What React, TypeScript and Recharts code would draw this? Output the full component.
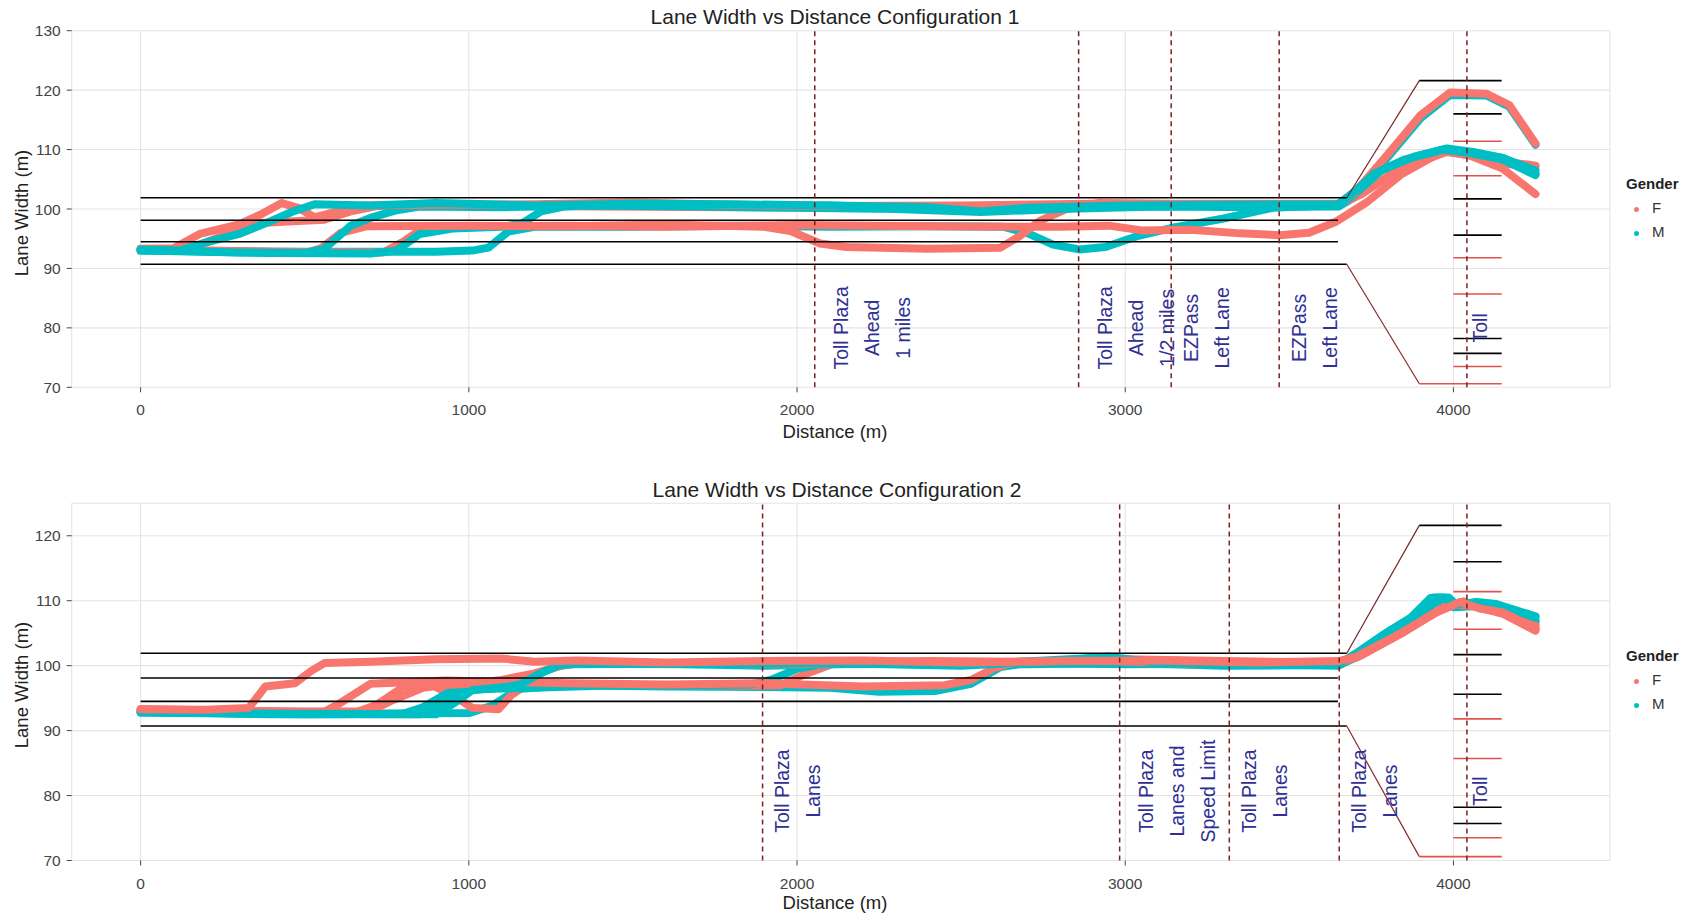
import React from 'react';
import { ComposedChart, Line, XAxis, YAxis, CartesianGrid, ReferenceLine, Scatter } from 'recharts';

const FONT = 'Liberation Sans, Arial, Helvetica, sans-serif';
const F_COLOR = '#F8766D';
const M_COLOR = '#00BFC4';

// axis ticks
const xTicks = [0, 1000, 2000, 3000, 4000];
const xMinor = [500, 1500, 2500, 3500];
const yTicks1 = [70, 80, 90, 100, 110, 120, 130];
const yMinor1 = [75, 85, 95, 105, 115, 125];
const yTicks2 = [70, 80, 90, 100, 110, 120];
const yMinor2 = [75, 85, 95, 105, 115];

// road geometry
const laneY = [90.7, 94.5, 98.1, 101.9];
const laneEnd = [3675, 3648, 3648, 3675];
const taperStart = 3675;
const taperEnd = 3896;
const plazaTop = 121.6;
const plazaBottom = 70.6;
const tollStart = 4000;
const tollEnd = 4147;
const tollBlack = [116.0, 101.7, 95.6, 78.2, 75.7];
const tollRed = [111.4, 105.6, 91.8, 85.7, 73.5];

// sign positions (distance) and texts
const signs1 = [2054, 2858, 3140, 3469, 4041];
const signText1 = [
  ['Toll Plaza', 'Ahead', '1 miles'],
  ['Toll Plaza', 'Ahead', '1/2 miles'],
  ['EZPass', 'Left Lane'],
  ['EZPass', 'Left Lane'],
  ['Toll'],
];
const signs2 = [1895, 2983, 3317, 3652, 4041];
const signText2 = [
  ['Toll Plaza', 'Lanes'],
  ['Toll Plaza', 'Lanes and', 'Speed Limit'],
  ['Toll Plaza', 'Lanes'],
  ['Toll Plaza', 'Lanes'],
  ['Toll'],
];

// configuration 1 trajectories [distance, lane width]
const c1F1 = [[0,93.3],[100,93.4],[180,95.8],[300,97.4],[370,99.2],[430,101],[480,100.2],[530,98.6],[600,99.6],[680,100.6],[900,100.7],[1200,100.8],[1500,101.1],[1800,100.7],[2100,100.5],[2500,100.6],[2900,100.9],[3300,100.9],[3650,100.9],[3700,102.8],[3800,109.2],[3900,115.8],[3990,119.6],[4100,119.4],[4170,117.5],[4250,111]];
const c1F2 = [[0,93.2],[150,93.3],[250,95.5],[350,97.6],[480,98],[560,98.2],[640,99.6],[720,100.5],[1000,100.6],[1400,100.4],[1800,100.3],[2200,100.2],[2600,100],[3000,100.5],[3400,100.6],[3650,100.7],[3720,102.5],[3820,106.2],[3980,109.7],[4050,109],[4150,106.8],[4250,102.5]];
const c1F3 = [[0,93.2],[300,92.9],[500,92.6],[550,93.4],[610,96],[690,97.1],[1000,97.2],[1300,97.1],[1600,97.4],[1900,97],[1980,96.3],[2070,94.2],[2150,93.6],[2400,93.3],[2620,93.5],[2680,95.5],[2740,98],[2820,100],[2920,101],[3200,100.8],[3500,100.6],[3650,100.8],[3730,103],[3850,107.2],[3980,109.6],[4060,109],[4150,108],[4250,107.3]];
const c1F4 = [[0,93.2],[400,92.8],[740,92.7],[800,94.5],[860,96.8],[1000,97.1],[1300,97.2],[1600,97],[2000,97.3],[2400,97.1],[2800,97],[2950,97.2],[3050,96.4],[3200,96.5],[3350,95.9],[3470,95.6],[3560,96],[3640,97.8],[3740,101.3],[3840,105.8],[3970,109.8],[4050,109],[4150,107.6],[4250,107.2]];
const c1M1 = [[0,93.2],[120,93],[200,94.4],[300,95.8],[390,97.8],[460,99.5],[530,100.8],[700,100.6],[900,101],[1200,100.6],[1500,100.9],[1800,100.8],[2100,100.6],[2400,100.3],[2560,99.6],[2700,100.2],[3000,100.6],[3300,100.7],[3650,100.8],[3700,103],[3760,106],[3850,108.3],[3970,110],[4050,109.4],[4150,108.3],[4250,105.7]];
const c1M2 = [[0,93.1],[300,92.7],[500,92.6],[560,93.3],[640,97.2],[700,98.5],[780,99.8],[850,100.4],[1100,100.3],[1400,100.6],[1700,100.4],[2000,100.2],[2300,100],[2560,99.5],[2800,100],[3100,100.4],[3400,100.3],[3650,100.5],[3700,102.5],[3780,106.5],[3880,108.8],[3980,110.2],[4060,109.6],[4150,108.6],[4250,106.5]];
const c1M3 = [[0,93],[400,92.6],[700,92.5],[780,93],[850,95.8],[950,96.7],[1100,97],[1160,97.5],[1220,99.6],[1290,100.4],[1500,100.8],[1800,100.5],[2100,100.6],[2400,100.1],[2700,100],[3000,100.4],[3300,100.5],[3650,100.4],[3700,102],[3800,108.7],[3900,115.3],[3990,119.2],[4100,119.1],[4170,117.2],[4250,110.8]];
const c1M4 = [[0,93],[500,92.8],[900,92.8],[1010,93],[1060,93.5],[1120,96.2],[1200,97],[1500,97],[1800,97.2],[2100,97],[2400,97.1],[2630,97],[2700,96],[2780,94],[2860,93.2],[2940,93.6],[3040,95.5],[3140,96.8],[3300,98.4],[3450,100.2],[3650,100.7],[3700,102.8],[3770,106.3],[3860,108.2],[3970,109.8],[4050,109.5],[4150,108.6],[4250,106]];

// configuration 2 trajectories
const c2F1 = [[0,93.3],[200,93.2],[330,93.5],[380,96.8],[470,97.3],[520,99.2],[560,100.4],[700,100.6],[900,101],[1100,101.1],[1200,100.6],[1330,100.8],[1600,100.5],[1900,100.7],[2200,100.8],[2500,100.5],[2800,100.7],[3100,100.8],[3400,100.5],[3650,100.7],[3700,101.3],[3840,105],[3940,108],[4020,109.8],[4080,108.8],[4150,108.2],[4250,105.8]];
const c2F2 = [[0,93.2],[300,93],[560,92.9],[610,94.3],[700,97.2],[930,97.7],[1100,97.5],[1300,97.3],[1600,97.1],[1900,97.3],[2200,96.8],[2450,97],[2530,97.8],[2600,99.6],[2670,100.6],[2900,100.8],[3200,100.4],[3650,100.3],[3720,101.6],[3850,105.2],[3980,109.3],[4050,109.6],[4150,108.4],[4250,106.2]];
const c2F3 = [[0,93.2],[400,92.8],[650,92.7],[720,94],[800,96.7],[880,97.2],[960,95.2],[1010,93.5],[1090,93.3],[1130,95.5],[1180,97.2],[1300,97.1],[1600,97],[1850,96.9],[1950,97],[2030,98.8],[2120,100.5],[2400,100.7],[2700,100.6],[3000,101],[3300,100.7],[3650,100.5],[3700,101.2],[3830,104.7],[3950,108.3],[4030,109.9],[4100,108.7],[4180,107.6],[4250,105.6]];
const c2F4 = [[0,93.3],[500,92.9],[700,93],[760,94.5],[860,96.6],[920,97],[1000,97.2],[1100,97.8],[1200,98.8],[1280,100],[1360,100.5],[1700,100.3],[2000,100.2],[2300,100.6],[2600,100.4],[2900,100.9],[3200,100.2],[3650,100.4],[3720,101.8],[3860,105.6],[3990,109.5],[4060,109.2],[4150,108],[4250,105.4]];
const c2M1 = [[0,92.9],[400,92.6],[900,92.5],[960,94.4],[1010,96.2],[1150,96.9],[1210,98.6],[1270,100],[1320,100.3],[1700,100.2],[2100,100.4],[2500,100.1],[2900,101.2],[2960,101.3],[3100,100.4],[3400,100.1],[3650,100.2],[3700,101.8],[3790,104.9],[3870,107.4],[3930,110.4],[3970,110.5],[4000,109.4],[4060,109.7],[4120,109.4],[4250,107.4]];
const c2M2 = [[0,92.8],[500,92.5],[800,92.6],[860,93.6],[950,96.2],[1050,96.4],[1400,96.9],[1700,97],[1860,97.1],[1920,97.8],[2000,99.5],[2080,100.3],[2400,100.5],[2700,100.2],[3000,100.4],[3300,100],[3650,100.1],[3710,101.4],[3810,104.6],[3900,108.3],[3960,110.2],[4010,109.2],[4080,109.5],[4150,109],[4250,106.9]];
const c2M3 = [[0,92.8],[600,92.6],[1000,92.7],[1070,93.8],[1150,96.4],[1300,97],[1600,96.8],[1900,96.7],[2100,96.6],[2250,96],[2420,96.1],[2530,97.2],[2620,99.8],[2700,100.4],[3000,100.2],[3300,100.3],[3650,100],[3700,101.3],[3800,104.5],[3890,107.8],[3950,109.8],[4000,109],[4080,109.2],[4160,108.6],[4250,106.6]];
const c2M4 = [[0,92.9],[400,92.5],[850,92.5],[900,93.4],[980,96.3],[1100,96.6],[1150,97.2],[1220,99],[1290,100.2],[1600,100.3],[1900,100],[2200,100.3],[2500,100],[2850,100.9],[2950,101.4],[3050,100.5],[3400,100.3],[3650,100.3],[3720,102.2],[3800,105.2],[3880,107.6],[3940,110.5],[3985,110.5],[4010,109.3],[4070,109.8],[4130,109.5],[4250,107.6]];

const pts = (a: number[][]) => a.map(([x, y]) => ({ x, y }));

const config1 = [
  { id: 'M4', g: 'M', d: c1M4 }, { id: 'F4', g: 'F', d: c1F4 },
  { id: 'M3', g: 'M', d: c1M3 }, { id: 'F3', g: 'F', d: c1F3 },
  { id: 'F2', g: 'F', d: c1F2 }, { id: 'M2', g: 'M', d: c1M2 },
  { id: 'F1', g: 'F', d: c1F1 }, { id: 'M1', g: 'M', d: c1M1 },
];
const config2 = [
  { id: 'M3', g: 'M', d: c2M3 }, { id: 'F3', g: 'F', d: c2F3 },
  { id: 'M2', g: 'M', d: c2M2 }, { id: 'F2', g: 'F', d: c2F2 },
  { id: 'M4', g: 'M', d: c2M4 }, { id: 'F4', g: 'F', d: c2F4 },
  { id: 'M1', g: 'M', d: c2M1 }, { id: 'F1', g: 'F', d: c2F1 },
];

const SignLabel = (props: any) => {
  const { cx, cy, payload } = props;
  if (cx == null || cy == null) return null;
  const lines: string[] = payload.lines;
  const base = 13.5 + (lines.length - 1) * 6.2;
  return (
    <g>
      {lines.map((t, i) => {
        const x = cx + base + i * 31;
        return (
          <text key={i} x={x} y={cy} transform={`rotate(-90 ${x} ${cy})`} textAnchor="middle"
            dominantBaseline="central" fontSize={19.5} fill="#2f2f94" fontFamily={FONT}>{t}</text>
        );
      })}
    </g>
  );
};

const minorX = ({ xAxis }: any) =>
  xAxis && typeof xAxis.scale === 'function' ? xMinor.map((v) => xAxis.scale(v)) : [];

const Panel = ({ trajectories, signs, signText, yDomain, yTicks, yMinor, labelY, height, margin }: any) => {
  const labels = signs.map((x: number, i: number) => ({ x, y: labelY, lines: signText[i] }));
  const minorY = ({ yAxis }: any) =>
    yAxis && typeof yAxis.scale === 'function' ? yMinor.map((v: number) => yAxis.scale(v)) : [];
  return (
    <ComposedChart width={1695} height={height} margin={margin}>
      <CartesianGrid stroke="#f3f3f3" strokeWidth={1} verticalCoordinatesGenerator={minorX}
        horizontalCoordinatesGenerator={minorY} />
      <CartesianGrid stroke="#e4e4e4" strokeWidth={1.1} />
      <XAxis dataKey="x" type="number" domain={[-210, 4477]} allowDataOverflow ticks={xTicks}
        axisLine={false} tickLine={{ stroke: '#444' }} tickSize={5} tickMargin={12} height={30}
        tick={{ fill: '#444', fontSize: 15.5, fontFamily: FONT }} />
      <YAxis dataKey="y" type="number" domain={yDomain} allowDataOverflow ticks={yTicks} width={60}
        axisLine={false} tickLine={{ stroke: '#444' }} tickSize={5} tickMargin={6}
        tick={{ fill: '#444', fontSize: 15.5, fontFamily: FONT }} />
      {trajectories.map((t: any) => (
        <Line key={t.id} data={pts(t.d)} dataKey="y" type="linear" stroke={t.g === 'F' ? F_COLOR : M_COLOR}
          strokeWidth={8} strokeLinejoin="round" strokeLinecap="round" dot={false} activeDot={false}
          isAnimationActive={false} />
      ))}
      {laneY.map((y, i) => (
        <ReferenceLine key={'lane' + i} segment={[{ x: 0, y }, { x: laneEnd[i], y }]} stroke="#000" strokeWidth={1.6} />
      ))}
      <ReferenceLine segment={[{ x: taperStart, y: laneY[3] }, { x: taperEnd, y: plazaTop }]} stroke="#7a2626" strokeWidth={1.2} />
      <ReferenceLine segment={[{ x: taperStart, y: laneY[0] }, { x: taperEnd, y: plazaBottom }]} stroke="#8a2a2a" strokeWidth={1.2} />
      <ReferenceLine segment={[{ x: taperEnd, y: plazaTop }, { x: tollEnd, y: plazaTop }]} stroke="#000" strokeWidth={1.6} />
      <ReferenceLine segment={[{ x: taperEnd, y: plazaBottom }, { x: tollEnd, y: plazaBottom }]} stroke="#e0524c" strokeWidth={1.6} />
      {tollBlack.map((y, i) => (
        <ReferenceLine key={'tb' + i} segment={[{ x: tollStart, y }, { x: tollEnd, y }]} stroke="#000" strokeWidth={1.6} />
      ))}
      {tollRed.map((y, i) => (
        <ReferenceLine key={'tr' + i} segment={[{ x: tollStart, y }, { x: tollEnd, y }]} stroke="#e0524c" strokeWidth={1.6} />
      ))}
      {signs.map((x: number, i: number) => (
        <ReferenceLine key={'s' + i} x={x} stroke="#7a2020" strokeWidth={1.5} strokeDasharray="5 4" />
      ))}
      <Scatter data={labels} dataKey="y" shape={SignLabel} isAnimationActive={false} />
    </ComposedChart>
  );
};

const text = (s: any) => ({ position: 'absolute' as const, fontFamily: FONT, whiteSpace: 'nowrap' as const, ...s });

const Legend = ({ top }: { top: number }) => (
  <>
    <div style={text({ left: 1626, top: top - 10, fontSize: 15, fontWeight: 'bold', color: '#222' })}>Gender</div>
    <div style={{ position: 'absolute', left: 1633.5, top: top + 21.5, width: 5, height: 5, borderRadius: 3, background: F_COLOR }} />
    <div style={text({ left: 1652, top: top + 14, fontSize: 15, color: '#333' })}>F</div>
    <div style={{ position: 'absolute', left: 1633.5, top: top + 45.5, width: 5, height: 5, borderRadius: 3, background: M_COLOR }} />
    <div style={text({ left: 1652, top: top + 38, fontSize: 15, color: '#333' })}>M</div>
  </>
);

export default function App() {
  return (
    <div style={{ position: 'absolute', left: 0, top: 0, width: 1695, height: 917, background: '#fff', overflow: 'hidden' }}>
      <div style={{ position: 'absolute', left: 0, top: 0 }}>
        <Panel trajectories={config1} signs={signs1} signText={signText1} yDomain={[70, 130]} yTicks={yTicks1}
          yMinor={yMinor1} labelY={80} height={460} margin={{ top: 30.7, right: 85, bottom: 42.7, left: 11.7 }} />
      </div>
      <div style={{ position: 'absolute', left: 0, top: 460 }}>
        <Panel trajectories={config2} signs={signs2} signText={signText2} yDomain={[70, 125]} yTicks={yTicks2}
          yMinor={yMinor2} labelY={80.7} height={457} margin={{ top: 43.3, right: 85, bottom: 26.5, left: 11.7 }} />
      </div>

      <div style={text({ left: 835, top: 5, transform: 'translateX(-50%)', fontSize: 21, color: '#222' })}>
        Lane Width vs Distance Configuration 1
      </div>
      <div style={text({ left: 837, top: 478, transform: 'translateX(-50%)', fontSize: 21, color: '#222' })}>
        Lane Width vs Distance Configuration 2
      </div>
      <div style={text({ left: 835, top: 421, transform: 'translateX(-50%)', fontSize: 18.5, color: '#222' })}>
        Distance (m)
      </div>
      <div style={text({ left: 835, top: 892, transform: 'translateX(-50%)', fontSize: 18.5, color: '#222' })}>
        Distance (m)
      </div>
      <div style={text({ left: 22, top: 213, transform: 'translate(-50%, -50%) rotate(-90deg)', fontSize: 18.5, color: '#222' })}>
        Lane Width (m)
      </div>
      <div style={text({ left: 22, top: 685, transform: 'translate(-50%, -50%) rotate(-90deg)', fontSize: 18.5, color: '#222' })}>
        Lane Width (m)
      </div>
      <Legend top={185} />
      <Legend top={657} />
    </div>
  );
}
